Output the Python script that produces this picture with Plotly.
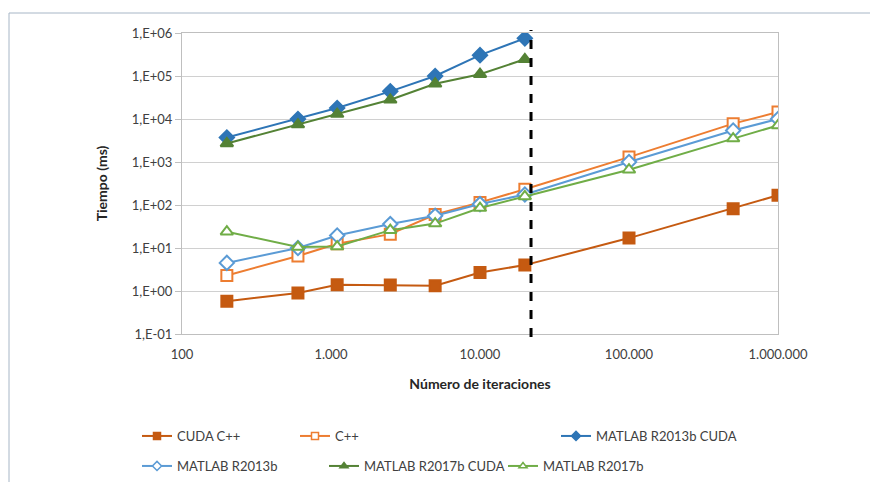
import plotly.graph_objects as go

# ---- data ----
iteraciones = [200, 600, 1100, 2500, 5000, 10000, 20000, 100000, 500000, 1000000]
cuda_cpp = [0.58, 0.9, 1.4, 1.38, 1.32, 2.7, 4.0, 17, 82, 168]
cpp = [2.3, 6.5, 12.5, 21, 60, 115, 232, 1300, 7800, 14500]
matlab13_cuda = [3700, 10000, 18000, 44000, 100000, 305000, 750000]
matlab13 = [4.5, 10, 19.5, 36, 56, 105, 175, 1000, 5400, 10000]
matlab17_cuda = [2700, 7400, 13000, 28000, 66000, 110000, 245000]
matlab17 = [24, 10.5, 10.8, 26, 37, 85, 158, 660, 3500, 7100]
limite_x = 22000

ytick_vals = [0.1, 1, 10, 100, 1000, 10000, 100000, 1000000]
ytick_text = ["1,E-01", "1,E+00", "1,E+01", "1,E+02", "1,E+03", "1,E+04", "1,E+05", "1,E+06"]
xtick_vals = [100, 1000, 10000, 100000, 1000000]
xtick_text = ["100", "1.000", "10.000", "100.000", "1.000.000"]

# page body has an 8px default margin
OFF = 8
W, H = 878 - OFF, 482 - OFF
ML = 182 - OFF
MT = 33 - OFF
MR = W - (778 - OFF)
MB = H - (334 - OFF)
PW, PH = W - ML - MR, H - MT - MB

def px(xp):
    return (xp - OFF - ML) / PW

def py(yp):
    return (H - MB - (yp - OFF)) / PH

series = [
    ("CUDA C++", iteraciones, cuda_cpp, "#C55A11", "square", "#C55A11", "legend"),
    ("C++", iteraciones, cpp, "#ED7D31", "square", "white", "legend2"),
    ("MATLAB R2013b CUDA", iteraciones[:7], matlab13_cuda, "#2E75B6", "diamond", "#2E75B6", "legend3"),
    ("MATLAB R2013b", iteraciones, matlab13, "#5B9BD5", "diamond", "white", "legend4"),
    ("MATLAB R2017b CUDA", iteraciones[:7], matlab17_cuda, "#548235", "triangle-up", "#548235", "legend5"),
    ("MATLAB R2017b", iteraciones, matlab17, "#70AD47", "triangle-up", "white", "legend6"),
]

fig = go.Figure()
for name, xs, ys, col, sym, fill, lg in series:
    fig.add_trace(go.Scatter(
        x=xs, y=ys, name=name, mode="lines+markers", showlegend=False,
        line=dict(color=col, width=2),
        marker=dict(symbol=sym, size=11, color=fill, line=dict(color=col, width=2)),
    ))
# legend entries with small markers
for name, xs, ys, col, sym, fill, lg in series:
    fig.add_trace(go.Scatter(
        x=[None], y=[None], name=name, mode="lines+markers", legend=lg, showlegend=True,
        line=dict(color=col, width=2),
        marker=dict(symbol=sym, size=7, color=fill, line=dict(color=col, width=1.5)),
    ))

fig.add_shape(type="line", xref="x", yref="paper", x0=limite_x, x1=limite_x, y0=-0.01, y1=1.01,
              line=dict(color="black", width=3, dash="dash"))

# outer frame (top and left)
fig.add_shape(type="line", xref="paper", yref="paper", x0=px(9), x1=px(878), y0=py(13), y1=py(13),
              line=dict(color="#A7B6C6", width=1))
fig.add_shape(type="line", xref="paper", yref="paper", x0=px(9), x1=px(9), y0=py(13), y1=py(482),
              line=dict(color="#A7B6C6", width=1))

font_leg = dict(family="Lato, Open Sans, sans-serif", size=13, color="#404040")
legpos = {
    "legend": (137, 436), "legend2": (295, 436), "legend3": (556, 436),
    "legend4": (137, 466), "legend5": (324, 466), "legend6": (503, 466),
}
legend_layout = {}
for k, (lx, ly) in legpos.items():
    legend_layout[k] = dict(x=px(lx), y=py(ly), xanchor="left", yanchor="middle",
                            font=font_leg, bgcolor="rgba(0,0,0,0)", itemwidth=30)

fig.update_layout(
    width=W, height=H,
    margin=dict(l=ML, r=MR, t=MT, b=MB, autoexpand=False),
    paper_bgcolor="white", plot_bgcolor="white",
    showlegend=True,
    **legend_layout,
    xaxis=dict(type="log", range=[2, 6], tickvals=xtick_vals, ticktext=xtick_text,
               showgrid=False, showline=True, linecolor="#BFBFBF", mirror=True, linewidth=1,
               ticks="outside", ticklen=8, tickcolor="rgba(0,0,0,0)",
               tickfont=dict(family="Lato, sans-serif", size=13, color="#404040"),
               title=dict(text="<b>Número de iteraciones</b>", font=dict(family="Lato, sans-serif", size=14, color="#262626"), standoff=18)),
    yaxis=dict(type="log", range=[-1, 6], tickvals=ytick_vals, ticktext=ytick_text,
               showgrid=True, gridcolor="#D0D0D0", gridwidth=1,
               showline=True, linecolor="#BFBFBF", mirror=True, linewidth=1,
               ticks="outside", ticklen=6, tickcolor="#BFBFBF",
               tickfont=dict(family="Lato, sans-serif", size=13, color="#404040"),
               title=dict(text="<b>Tiempo (ms)</b>", font=dict(family="Lato, sans-serif", size=14, color="#262626"), standoff=20)),
)

fig.write_html("out.html")
